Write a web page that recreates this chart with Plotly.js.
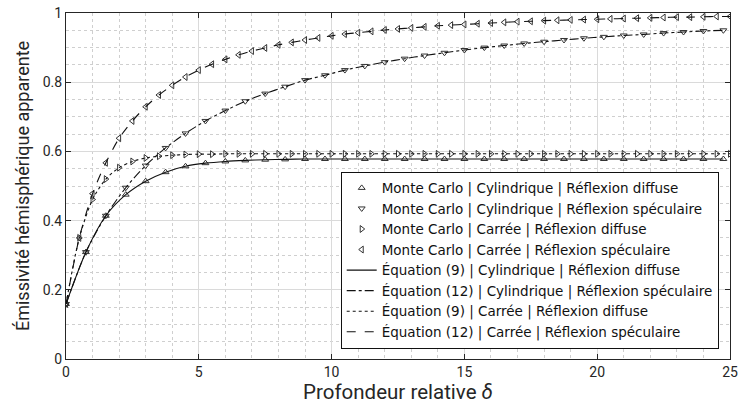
<!DOCTYPE html>
<html>
<head>
<meta charset="utf-8">
<script src="https://cdn.plot.ly/plotly-3.0.1.min.js"></script>
<style>html,body{margin:0;padding:0;background:#fff;}#chart{width:746px;height:408px;}</style>
</head>
<body>
<div id="chart"></div>
<script>
// Depth grids (relative depth delta)
const xSquare = [0,0.5,1,1.5,2,2.5,3,3.5,4,4.5,5,5.5,6,6.5,7,7.5,8,8.5,9,9.5,10,10.5,11,11.5,12,12.5,13,13.5,14,14.5,15,15.5,16,16.5,17,17.5,18,18.5,19,19.5,20,20.5,21,21.5,22,22.5,23,23.5,24,24.5,25];
const xCyl = [0,0.75,1.5,2.25,3,3.75,4.5,5.25,6,6.75,7.5,8.25,9,9.75,10.5,11.25,12,12.75,13.5,14.25,15,15.75,16.5,17.25,18,18.75,19.5,20.25,21,21.75,22.5,23.25,24,24.75];

// Monte Carlo | Cylindrique | Réflexion diffuse
const mcCylDiffuse = [0.159,0.309,0.414,0.475,0.514,0.540,0.557,0.566,0.571,0.574,0.576,0.577,0.578,0.578,0.578,0.578,0.578,0.578,0.578,0.578,0.578,0.578,0.578,0.578,0.578,0.578,0.578,0.578,0.578,0.578,0.578,0.578,0.578,0.578];
// Monte Carlo | Cylindrique | Réflexion spéculaire
const mcCylSpecular = [0.159,0.309,0.414,0.495,0.559,0.610,0.652,0.688,0.718,0.745,0.767,0.787,0.806,0.820,0.835,0.847,0.858,0.868,0.877,0.885,0.893,0.900,0.906,0.912,0.917,0.922,0.927,0.931,0.935,0.938,0.942,0.945,0.948,0.950];
// Monte Carlo | Carrée | Réflexion diffuse
const mcSqDiffuse = [0.159,0.350,0.461,0.520,0.553,0.571,0.581,0.586,0.589,0.591,0.592,0.592,0.593,0.593,0.593,0.593,0.593,0.593,0.593,0.593,0.593,0.593,0.593,0.593,0.593,0.593,0.593,0.593,0.593,0.593,0.593,0.593,0.593,0.593,0.593,0.593,0.593,0.593,0.593,0.593,0.593,0.593,0.593,0.593,0.593,0.593,0.593,0.593,0.593,0.593,0.593];
// Monte Carlo | Carrée | Réflexion spéculaire
const mcSqSpecular = [0.159,0.350,0.478,0.567,0.638,0.688,0.729,0.763,0.791,0.815,0.835,0.852,0.866,0.879,0.890,0.899,0.908,0.915,0.922,0.928,0.934,0.939,0.943,0.947,0.951,0.954,0.957,0.960,0.963,0.965,0.967,0.969,0.971,0.973,0.975,0.976,0.978,0.979,0.980,0.981,0.982,0.983,0.984,0.985,0.986,0.987,0.988,0.988,0.989,0.990,0.990];

// Analytical curves (coincide with the Monte Carlo values)
const eq9Cyl = mcCylDiffuse.slice();
const eq12Cyl = mcCylSpecular.slice();
const eq9Sq = mcSqDiffuse.slice();
const eq12Sq = mcSqSpecular.slice();

const names = [
  'Monte Carlo | Cylindrique | Réflexion diffuse',
  'Monte Carlo | Cylindrique | Réflexion spéculaire',
  'Monte Carlo | Carrée | Réflexion diffuse',
  'Monte Carlo | Carrée | Réflexion spéculaire',
  'Équation (9) | Cylindrique | Réflexion diffuse',
  'Équation (12) | Cylindrique | Réflexion spéculaire',
  'Équation (9) | Carrée | Réflexion diffuse',
  'Équation (12) | Carrée | Réflexion spéculaire'
];

const mk = (sym) => ({symbol: sym, size: 6, color: '#333', line: {color: '#333', width: 1}});
const ln = (dash) => ({color: '#111', width: 1.1, dash: dash, shape: 'spline', smoothing: 0.8});

const traces = [
  {x: xCyl, y: mcCylDiffuse, mode: 'markers', name: names[0], marker: mk('triangle-up-open')},
  {x: xCyl, y: mcCylSpecular, mode: 'markers', name: names[1], marker: mk('triangle-down-open')},
  {x: xSquare, y: mcSqDiffuse, mode: 'markers', name: names[2], marker: mk('triangle-right-open')},
  {x: xSquare, y: mcSqSpecular, mode: 'markers', name: names[3], marker: mk('triangle-left-open')},
  {x: xCyl, y: eq9Cyl, mode: 'lines', name: names[4], line: ln('solid')},
  {x: xCyl, y: eq12Cyl, mode: 'lines', name: names[5], line: ln('dashdot')},
  {x: xSquare, y: eq9Sq, mode: 'lines', name: names[6], line: ln('dot')},
  {x: xSquare, y: eq12Sq, mode: 'lines', name: names[7], line: ln('dash')}
];

const axisCommon = {
  showline: true, linecolor: '#262626', linewidth: 1, mirror: 'ticks',
  ticks: 'inside', ticklen: 5, tickcolor: '#262626',
  showgrid: true, gridcolor: '#dadada', gridwidth: 1,
  zeroline: false,
  tickfont: {family: 'Roboto, sans-serif', size: 14, color: '#262626'}
};

const layout = {
  width: 746, height: 408,
  margin: {l: 66, r: 16, t: 13, b: 49},
  paper_bgcolor: '#fff', plot_bgcolor: '#fff',
  font: {family: 'Roboto, sans-serif', color: '#262626'},
  xaxis: Object.assign({}, axisCommon, {
    range: [0, 25], tickvals: [0,5,10,15,20,25], ticktext: ['0','5','10','15','20','25'],
    minor: {dtick: 1, tick0: 0, showgrid: true, griddash: 'dot', gridcolor: '#cfcfcf', gridwidth: 1},
    title: {text: 'Profondeur relative <i>δ</i>', font: {family: 'Roboto, sans-serif', size: 20.5, color: '#262626'}, standoff: 5}
  }),
  yaxis: Object.assign({}, axisCommon, {
    range: [0, 1], tickvals: [0,0.2,0.4,0.6,0.8,1], ticktext: ['0','0.2','0.4','0.6','0.8','1'],
    minor: {dtick: 0.05, tick0: 0, showgrid: true, griddash: 'dot', gridcolor: '#cfcfcf', gridwidth: 1},
    title: {text: 'Émissivité hémisphérique apparente', font: {family: 'Roboto, sans-serif', size: 18, color: '#262626'}, standoff: 8}
  }),
  showlegend: true,
  legend: {
    x: 0.983, xanchor: 'right', y: 0.03, yanchor: 'bottom',
    bgcolor: '#fff', bordercolor: '#111', borderwidth: 1,
    font: {family: 'DejaVu Sans', size: 13.5, color: '#111'},
    tracegroupgap: 0
  }
};

Plotly.newPlot('chart', traces, layout, {displayModeBar: false, staticPlot: true});
</script>
</body>
</html>
